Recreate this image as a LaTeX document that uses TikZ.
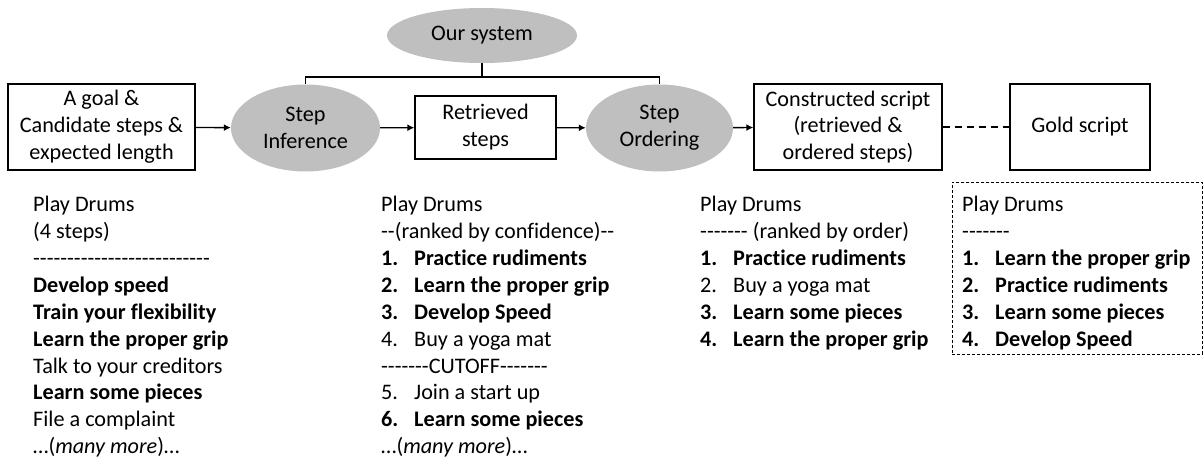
\documentclass[tikz,border=0pt]{standalone}
\usepackage{fontspec}
\setmainfont{Carlito}[Ligatures={TeXOff,NoCommon}]
\usepackage{tikz}
\usetikzlibrary{shapes}
\usetikzlibrary{arrows.meta}
\newcommand{\stepno}[1]{\makebox[33pt][l]{#1}}

\begin{document}
\begin{tikzpicture}[x=1pt, y=-1pt,
  txt/.style={font=\fontsize{22.2}{26.9}\selectfont},
  box/.style={txt, draw, line width=1.3pt, align=center, inner sep=0pt},
  proc/.style={txt, ellipse, fill=black!25, align=center, inner sep=0pt},
  steplist/.style={txt, align=left, anchor=north west, inner sep=0pt},
  arr/.style={line width=1.4pt, -{Latex[length=7pt,width=7pt]}},
  bar/.style={line width=1.4pt}]
\useasboundingbox (0,0) rectangle (1204,457);

\node[box, minimum width=187, minimum height=86] (goal) at (101.5,127) {A goal \&\\Candidate steps \&\\expected length};
\node[proc, minimum width=149, minimum height=87] (infer) at (305.5,128) {Step\\Inference};
\node[box, minimum width=141, minimum height=63] (retr) at (485.5,127.5) {Retrieved\\steps};
\node[proc, minimum width=147, minimum height=87] (order) at (659.5,128) {Step\\Ordering};
\node[box, minimum width=188, minimum height=86] (cons) at (848,127) {Constructed script\\(retrieved \&\\ordered steps)};
\node[box, minimum width=140, minimum height=86] (gold) at (1080,127) {Gold script};
\node[proc, minimum width=190, minimum height=55] (sys) at (482,35.5) {Our system};
\coordinate (sysbar) at (482,77);

\draw[arr] (goal) -- (infer);
\draw[arr] (infer) -- (retr);
\draw[arr] (retr) -- (order);
\draw[arr] (order) -- (cons);
\draw[line width=1.4pt, dash pattern=on 7pt off 5pt] (cons) -- (gold);
\draw[bar] (sys) -- (sysbar);
\draw[bar] (infer.north) |- (sysbar) -| (order.north);

\node[steplist] (lstInput) at (33,196) {Play Drums\\(4 steps)\\--------------------------\\
\textbf{Develop speed}\\\textbf{Train your flexibility}\\\textbf{Learn the proper grip}\\
Talk to your creditors\\\textbf{Learn some pieces}\\File a complaint\\…(\textit{many more})…};
\node[steplist] (lstRetr) at (381,196) {Play Drums\\--(ranked by confidence)--\\
\textbf{\stepno{1.}Practice rudiments}\\\textbf{\stepno{2.}Learn the proper grip}\\
\textbf{\stepno{3.}Develop Speed}\\\stepno{4.}Buy a yoga mat\\-------CUTOFF-------\\
\stepno{5.}Join a start up\\\textbf{\stepno{6.}Learn some pieces}\\…(\textit{many more})…};
\node[steplist] (lstOrder) at (700,196) {Play Drums\\------- (ranked by order)\\
\textbf{\stepno{1.}Practice rudiments}\\\stepno{2.}Buy a yoga mat\\
\textbf{\stepno{3.}Learn some pieces}\\\textbf{\stepno{4.}Learn the proper grip}};
\node[steplist] (lstGold) at (962,196) {Play Drums\\-------\\
\textbf{\stepno{1.}Learn the proper grip}\\\textbf{\stepno{2.}Practice rudiments}\\
\textbf{\stepno{3.}Learn some pieces}\\\textbf{\stepno{4.}Develop Speed}};
\node[draw, densely dashed, line width=0.8pt, minimum width=250, minimum height=172, anchor=north west] (goldFrame) at (952,182) {};
\end{tikzpicture}
\end{document}
